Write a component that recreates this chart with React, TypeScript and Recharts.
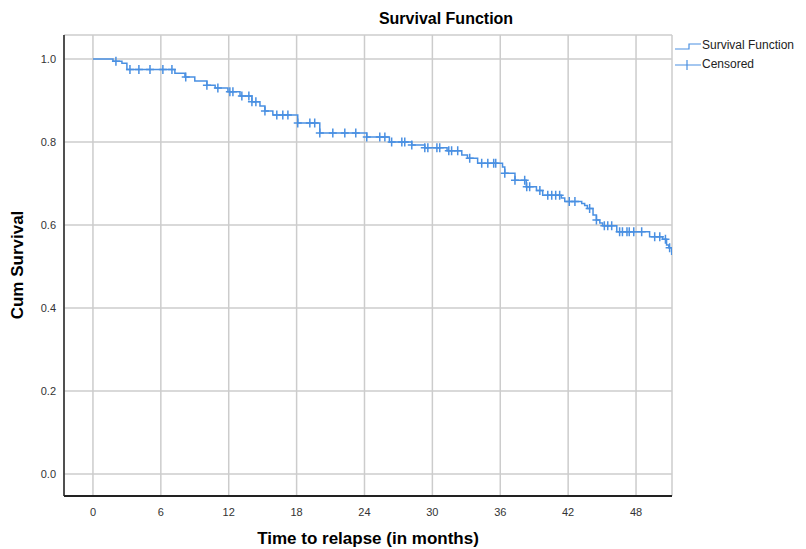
import React from "react";
import { ComposedChart, Line, Scatter, XAxis, YAxis, CartesianGrid } from "recharts";

// Kaplan-Meier step function: event times (months) and survival after each step
const stepTimes = [0, 1.77, 2.56, 3.0, 7.24, 8.13, 9.0, 10.07, 10.8, 11.93, 13.0, 14.05, 14.76, 15.2, 15.9, 18.1, 20.05, 24.2, 26.2, 28.18, 29.33, 31.3, 32.6, 33.1, 34.0, 36.2, 36.4, 37.3, 38.3, 39.2, 39.75, 41.4, 41.7, 43.2, 43.46, 43.7, 44.2, 44.5, 44.8, 45.05, 46.3, 49.2, 50.35, 50.7, 50.9, 51.15];
const stepSurv = [1.0, 0.995, 0.99, 0.975, 0.966, 0.957, 0.947, 0.937, 0.93, 0.921, 0.911, 0.897, 0.887, 0.875, 0.865, 0.846, 0.822, 0.812, 0.8, 0.793, 0.786, 0.779, 0.769, 0.761, 0.749, 0.74, 0.725, 0.708, 0.692, 0.683, 0.672, 0.665, 0.657, 0.652, 0.647, 0.64, 0.624, 0.612, 0.605, 0.598, 0.584, 0.572, 0.566, 0.552, 0.545, 0.528];

// Censored observations
const censTimes = [2.03, 3.27, 4.06, 5.04, 6.18, 6.98, 8.2, 10.07, 11.04, 12.1, 12.37, 13.16, 13.78, 14.05, 14.4, 15.2, 16.25, 16.78, 17.23, 18.1, 19.17, 19.6, 20.05, 21.2, 22.26, 23.23, 24.2, 25.35, 25.8, 26.4, 27.3, 27.56, 28.18, 29.33, 29.6, 30.4, 30.65, 31.45, 31.7, 32.24, 33.3, 34.36, 34.9, 35.42, 35.6, 36.4, 37.3, 38.16, 38.34, 38.6, 39.5, 40.2, 40.55, 40.9, 41.25, 42.1, 42.6, 43.9, 44.5, 45.2, 45.5, 45.85, 46.55, 46.8, 47.2, 47.4, 47.8, 48.5, 49.65, 50.1, 50.6, 50.97];
const censSurv = [0.995, 0.975, 0.975, 0.975, 0.975, 0.975, 0.957, 0.937, 0.93, 0.921, 0.921, 0.911, 0.911, 0.897, 0.897, 0.875, 0.865, 0.865, 0.865, 0.846, 0.846, 0.846, 0.822, 0.822, 0.822, 0.822, 0.812, 0.812, 0.812, 0.8, 0.8, 0.8, 0.793, 0.786, 0.786, 0.786, 0.786, 0.779, 0.779, 0.779, 0.761, 0.749, 0.749, 0.749, 0.749, 0.725, 0.708, 0.708, 0.692, 0.692, 0.683, 0.672, 0.672, 0.672, 0.672, 0.657, 0.657, 0.64, 0.612, 0.598, 0.598, 0.598, 0.584, 0.584, 0.584, 0.584, 0.584, 0.584, 0.572, 0.572, 0.566, 0.545];

const xTicks = [0, 6, 12, 18, 24, 30, 36, 42, 48];
const yTicks = [0, 0.2, 0.4, 0.6, 0.8, 1.0];

const title = "Survival Function";
const xTitle = "Time to relapse (in months)";
const yTitle = "Cum Survival";
const legendItems = ["Survival Function", "Censored"];

const stepData = stepTimes.map((t, i) => ({ t, s: stepSurv[i] }));
const censData = censTimes.map((t, i) => ({ t, s: censSurv[i] }));

const BLUE = "#4a90e2";
const FONT = "'Liberation Sans Narrow', 'Liberation Sans', Arial, sans-serif";

const Cross = (props: any) => {
  const { cx, cy } = props;
  if (cx == null || cy == null) return null;
  return (
    <path d={`M${cx - 4},${cy}H${cx + 4}M${cx},${cy - 4.5}V${cy + 4.5}`} stroke={BLUE} strokeWidth={1.5} fill="none" />
  );
};

export default function App() {
  return (
    <div style={{ position: "absolute", left: 0, top: 0, width: 806, height: 549, background: "#fff", fontFamily: FONT }}>
      <ComposedChart width={806} height={549} margin={{ top: 35, right: 134, left: 0, bottom: 0 }}>
        <CartesianGrid stroke="#cccccc" strokeWidth={1.5} />
        <XAxis
          type="number"
          dataKey="t"
          domain={[-2.56, 51.18]}
          ticks={xTicks}
          allowDataOverflow
          height={53}
          tickLine={false}
          tickMargin={6}
          axisLine={{ stroke: "#222", strokeWidth: 2 }}
          tick={{ fontSize: 11, fill: "#333", fontFamily: FONT }}
          label={{ value: xTitle, position: "insideBottom", offset: 5, style: { fontSize: 17, fontWeight: "bold", fill: "#000", fontFamily: FONT } }}
        />
        <YAxis
          type="number"
          dataKey="s"
          domain={[-0.053, 1.058]}
          ticks={yTicks}
          allowDataOverflow
          width={64}
          tickLine={false}
          axisLine={{ stroke: "#222", strokeWidth: 1.5 }}
          tickFormatter={(v: number) => v.toFixed(1)}
          tick={{ fontSize: 11, fill: "#333", fontFamily: FONT }}
          label={{
            content: () => (
              <text x={17} y={265} transform="rotate(-90, 17, 265)" textAnchor="middle" dominantBaseline="central" style={{ fontSize: 17, fontWeight: "bold", fill: "#000", fontFamily: FONT }}>
                {yTitle}
              </text>
            ),
          }}
        />
        <Line data={stepData} dataKey="s" type="stepAfter" stroke={BLUE} strokeWidth={1.5} dot={false} isAnimationActive={false} />
        <Scatter data={censData} dataKey="s" shape={Cross} isAnimationActive={false} />
      </ComposedChart>
      <div style={{ position: "absolute", left: 0, width: 892, top: 10, textAlign: "center", fontSize: 16, fontWeight: "bold", color: "#000", fontFamily: FONT }}>
        {title}
      </div>
      <div style={{ position: "absolute", left: 674, top: 36, fontSize: 12, color: "#222", fontFamily: FONT, lineHeight: "19px" }}>
        <div style={{ display: "flex", alignItems: "center" }}>
          <svg width={28} height={14}>
            <path d="M1,10H15V5H27" stroke={BLUE} strokeWidth={1.2} fill="none" />
          </svg>
          <span>{legendItems[0]}</span>
        </div>
        <div style={{ display: "flex", alignItems: "center" }}>
          <svg width={28} height={14}>
            <path d="M1,7H27M13,2V12" stroke={BLUE} strokeWidth={1.2} fill="none" />
          </svg>
          <span>{legendItems[1]}</span>
        </div>
      </div>
    </div>
  );
}
